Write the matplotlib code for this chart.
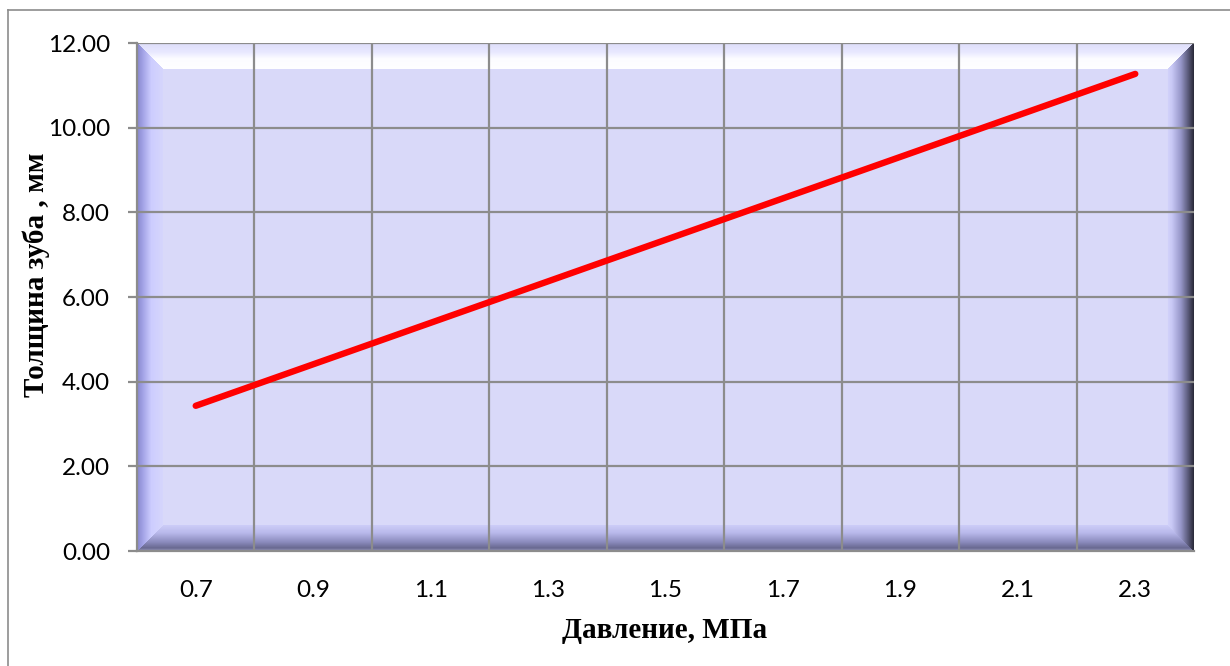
import numpy as np
import matplotlib
matplotlib.use("Agg")
import matplotlib.pyplot as plt
from matplotlib.lines import Line2D

# Pressure, MPa and tooth thickness, mm
pressure = [0.7, 0.8, 0.9, 1.0, 1.1, 1.2, 1.3, 1.4, 1.5, 1.6, 1.7, 1.8, 1.9, 2.0, 2.1, 2.2, 2.3]
thickness = [3.43, 3.92, 4.41, 4.90, 5.39, 5.88, 6.37, 6.86, 7.35, 7.84, 8.33, 8.82, 9.31, 9.80, 10.29, 10.78, 11.27]
x_labels = ["0.7", "0.9", "1.1", "1.3", "1.5", "1.7", "1.9", "2.1", "2.3"]
x_label_pos = [0.7, 0.9, 1.1, 1.3, 1.5, 1.7, 1.9, 2.1, 2.3]
x_grid = [0.6, 0.8, 1.0, 1.2, 1.4, 1.6, 1.8, 2.0, 2.2, 2.4]
y_ticks = [0, 2, 4, 6, 8, 10, 12]

W, H = 1230, 666
fig = plt.figure(figsize=(W / 100, H / 100), dpi=100)
fig.patch.set_facecolor("white")

# outer chart frame
fig.add_artist(Line2D([8 / W, 8 / W], [0, 1 - 10 / H], color="#8c8c8c", lw=1.2))
fig.add_artist(Line2D([8 / W, 1], [1 - 10 / H, 1 - 10 / H], color="#8c8c8c", lw=1.2))

L, R, T, B = 137, 1194, 43, 551
ax = fig.add_axes([L / W, 1 - B / H, (R - L) / W, (B - T) / H])
xmin, xmax, ymin, ymax = 0.6, 2.4, 0.0, 12.0
ax.set_xlim(xmin, xmax)
ax.set_ylim(ymin, ymax)

# bevelled plot-area background
pw, ph = R - L, B - T
bw = 26.0
xs = np.arange(pw) + 0.5
ys = np.arange(ph) + 0.5
X, Y = np.meshgrid(xs, ys)  # Y measured from bottom (origin='lower')
D = np.stack([X, pw - X, ph - Y, Y])  # left, right, top, bottom
side = np.argmin(D, axis=0)
dmin = np.min(D, axis=0)
t = np.clip(dmin / bw, 0, 1)

fill = np.array([217, 217, 250]) / 255.0

def ramp(tt, stops):
    pos = [s[0] for s in stops]
    out = np.zeros(tt.shape + (3,))
    for c in range(3):
        out[..., c] = np.interp(tt, pos, [s[1][c] / 255.0 for s in stops])
    return out

stops_left = [(0, (135, 135, 205)), (0.25, (165, 165, 232)), (0.55, (205, 205, 255)), (0.999, (214, 214, 252)), (1, fill * 255)]
stops_right = [(0, (40, 40, 55)), (0.2, (85, 85, 115)), (0.5, (150, 150, 200)), (0.85, (200, 200, 245)), (0.999, (210, 210, 250)), (1, fill * 255)]
stops_top = [(0, (222, 222, 250)), (0.35, (232, 232, 255)), (0.6, (252, 252, 255)), (0.999, (255, 255, 255)), (1, fill * 255)]
stops_bottom = [(0, (150, 150, 190)), (0.12, (105, 105, 145)), (0.35, (140, 140, 190)), (0.7, (185, 185, 235)), (0.999, (205, 205, 248)), (1, fill * 255)]

img = np.zeros((ph, pw, 3))
img[:] = fill
for k, stops in enumerate([stops_left, stops_right, stops_top, stops_bottom]):
    m = (side == k) & (dmin < bw)
    if m.any():
        img[m] = ramp(t[m], stops)

ax.imshow(img, extent=[xmin, xmax, ymin, ymax], origin="lower", aspect="auto",
          interpolation="bilinear", zorder=0)

# gridlines
grid_kw = dict(color="#8c8c8c", lw=1.6, zorder=1)
for gx in x_grid[1:-1]:
    ax.axvline(gx, **grid_kw)
for gy in y_ticks[1:]:
    ax.axhline(gy, **grid_kw)

# data line
ax.plot(pressure, thickness, color="#ff0000", lw=4.6, solid_capstyle="round", zorder=3)

# axes styling
for s in ["top", "right"]:
    ax.spines[s].set_visible(False)
for s in ["left", "bottom"]:
    ax.spines[s].set_color("#8c8c8c")
    ax.spines[s].set_linewidth(1.6)
    ax.spines[s].set_zorder(2)

ax.set_yticks(y_ticks)
ax.set_yticklabels([f"{v:.2f}" for v in y_ticks])
ax.set_xticks(x_label_pos)
ax.set_xticklabels(x_labels)
ax.tick_params(axis="y", length=6.5, width=1.6, color="#8c8c8c", pad=13,
               labelsize=17.5, labelcolor="black")
ax.tick_params(axis="x", length=0, pad=21, labelsize=17.5, labelcolor="black")
for lab in ax.get_xticklabels() + ax.get_yticklabels():
    lab.set_family("Lato")

fig.text(665 / W, 1 - 630 / H, "Давление, МПа", ha="center", va="center",
         family="Liberation Serif", fontweight="bold", fontsize=21)
fig.text(36 / W, 1 - 275 / H, "Толщина зуба , мм", ha="center", va="center",
         rotation=90, family="Liberation Serif", fontweight="bold", fontsize=21)

fig.savefig("out.png", dpi=100, facecolor="white")
